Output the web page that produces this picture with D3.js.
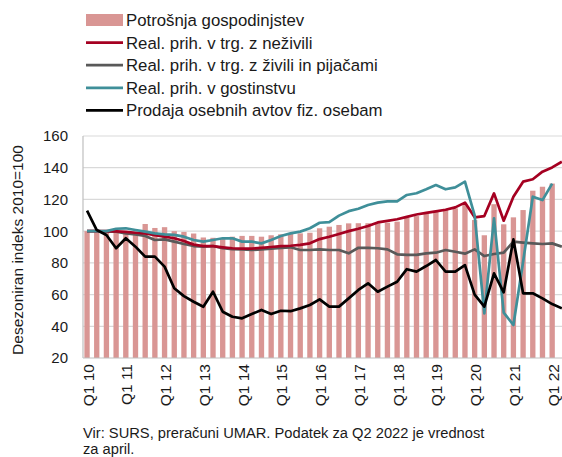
<!DOCTYPE html>
<html>
<head>
<meta charset="utf-8">
<script src="https://cdn.jsdelivr.net/npm/d3@7"></script>
<style>
	body { margin: 0; background: #fff; }
	svg text { font-family: "Liberation Sans", Arial, sans-serif; fill: #1a1a1a; }
</style>
</head>
<body>
<div class="container"></div>
<script>
//quarterly data, Q1 2010 - Q2 2022
const years = ['10','11','12','13','14','15','16','17','18','19','20','21','22'];
const tickLabels = ['Q1 10','Q1 11','Q1 12','Q1 13','Q1 14','Q1 15','Q1 16','Q1 17','Q1 18','Q1 19','Q1 20','Q1 21','Q1 22'];

//bars: household consumption (ends Q1 22)
const potrosnja = [100,100,100,100.5,100,99.5,104.5,102,102.5,100,
	99.5,98.5,96,95.8,95,96.5,97,97,96.5,97.4,
	98,98.6,98.6,99,101.8,102.8,103.9,104.9,105,105,
	105,105.3,106,108.5,109.5,111,112.8,113.3,114.4,116.5,
	107,97.4,117,104.3,108.7,113.3,125.5,128,130];

//lines
const nezivili = [100,100,100,99.8,99.5,99,98.5,97.5,96.5,95.5,
	93.8,91.5,90.5,90.5,89.8,89.2,89,89,89.5,90,
	90.5,90.8,91.3,92.3,95,96.5,98.2,100,101.5,103.2,
	105.5,106.5,107.5,109,110.5,111.5,112.5,113.5,115,118,
	108.7,109.5,123.8,106.6,121.7,131.2,132.7,137.5,140.2,143.8];

const zivili = [100,100,99.7,99.7,98.6,98,97,94.4,94.8,93.4,
	91.9,90.6,90.2,90.6,89.2,88.7,88.5,88.1,88.5,88.9,
	89.5,89.8,88.1,88.1,88.5,88.1,88.1,86,89.5,89.5,
	89.2,88.5,85.4,85,85,86,86.4,88.1,87,85.8,
	88.5,84.3,85.6,86.4,93.4,92.8,92.3,91.9,92.3,90.2];

const gostinstvo = [100,100,100,101.5,101.8,100.7,99.7,98.6,98,97.6,
	96.5,94.4,93.4,94.4,95.5,95.5,93.4,93.4,92.3,94.4,
	96.9,98.6,99.7,101.8,105.3,105.7,109.8,112.6,114.1,116.5,
	118,118.8,118.8,122.8,123.9,126.4,129.1,126.4,127.6,131.2,
	110,48.2,108.1,48.6,40.8,80.7,121.7,119.6,130];

const avti = [112.9,100.7,97.6,89.2,95.5,90.2,83.9,83.9,77.6,64,
	59,55.5,52.3,61.8,49.2,46,45,47.7,50.3,47.7,
	49.8,49.5,51.3,53.4,57,52.4,52.4,57.6,62.9,67.1,
	61.8,65,68.1,76,74.5,78,81.8,74.5,74.5,78.6,
	60,52.4,73.4,61.4,94.8,60.8,60.8,57.6,54,51.3];

const yTicks = [20,40,60,80,100,120,140,160];

//category keys: 'Q1 10' ... 'Q2 22'
const quarters = [];
years.forEach(function(yr){
	[1,2,3,4].forEach(function(q){ quarters.push(`Q${q} ${yr}`); });
});
quarters.splice(50);

const W = 562, H = 457;
const svg = d3.select('.container')
	.append('svg')
	.attr('width', W)
	.attr('height', H);

//scales: the plot runs past the right edge of the picture
const x = d3.scaleBand()
	.domain(quarters)
	.range([82.2, 566.7])
	.paddingInner(0.45)
	.paddingOuter(0.225);
const y = d3.scaleLinear()
	.domain([20, 160])
	.range([358, 136]);
const cx = function(i){ return x(quarters[i]) + x.bandwidth()/2; };

//gridlines
svg.append('g')
	.selectAll('line')
	.data(yTicks.slice(1))
	.enter()
	.append('line')
	.attr('x1', 83)
	.attr('x2', W)
	.attr('y1', function(d){ return y(d); })
	.attr('y2', function(d){ return y(d); })
	.style('stroke', '#d9d9d9')
	.style('stroke-width', 1.2);

//y labels
svg.append('g')
	.selectAll('text')
	.data(yTicks)
	.enter()
	.append('text')
	.attr('x', 68)
	.attr('y', function(d){ return y(d); })
	.attr('dy', '0.36em')
	.attr('text-anchor', 'end')
	.style('font-size', '15px')
	.text(function(d){ return d; });

svg.append('text')
	.attr('transform', 'translate(23, 250) rotate(-90)')
	.attr('text-anchor', 'middle')
	.style('font-size', '15.5px')
	.text('Desezoniran indeks 2010=100');

//bars
svg.append('g')
	.selectAll('rect')
	.data(potrosnja)
	.enter()
	.append('rect')
	.attr('x', function(d, i){ return x(quarters[i]); })
	.attr('width', x.bandwidth())
	.attr('y', function(d){ return y(d); })
	.attr('height', function(d){ return y(20) - y(d); })
	.style('fill', '#d99694');

//axes lines
svg.append('line')
	.attr('x1', 83).attr('x2', 83)
	.attr('y1', y(160)).attr('y2', y(20))
	.style('stroke', '#bfbfbf').style('stroke-width', 1.2);
svg.append('line')
	.attr('x1', 83).attr('x2', W)
	.attr('y1', y(20)).attr('y2', y(20))
	.style('stroke', '#bfbfbf').style('stroke-width', 1.2);

//lines
const series = [
	{name: 'Real. prih. v trg. z živili in pijačami', values: zivili, color: '#595959'},
	{name: 'Real. prih. v trg. z neživili', values: nezivili, color: '#a50021'},
	{name: 'Real. prih. v gostinstvu', values: gostinstvo, color: '#3f8f99'},
	{name: 'Prodaja osebnih avtov fiz. osebam', values: avti, color: '#000000'}
];
const lineGen = d3.line()
	.x(function(d, i){ return cx(i); })
	.y(function(d){ return y(d); });

svg.append('g')
	.selectAll('path')
	.data(series)
	.enter()
	.append('path')
	.attr('d', function(d){ return lineGen(d.values); })
	.style('fill', 'none')
	.style('stroke', function(d){ return d.color; })
	.style('stroke-width', 2.7)
	.style('stroke-linejoin', 'round');

//x labels
svg.append('g')
	.selectAll('text')
	.data(tickLabels)
	.enter()
	.append('text')
	.attr('transform', function(d){
		return `translate(${cx(quarters.indexOf(d)) + 1}, 364) rotate(-90)`;
	})
	.attr('dy', '0.36em')
	.attr('text-anchor', 'end')
	.style('font-size', '15.5px')
	.text(function(d){ return d; });

//legend
const legendItems = [
	{name: 'Potrošnja gospodinjstev', color: '#d99694', bar: true},
	{name: 'Real. prih. v trg. z neživili', color: '#a50021'},
	{name: 'Real. prih. v trg. z živili in pijačami', color: '#595959'},
	{name: 'Real. prih. v gostinstvu', color: '#3f8f99'},
	{name: 'Prodaja osebnih avtov fiz. osebam', color: '#000000'}
];
const legend = svg.append('g')
	.selectAll('g')
	.data(legendItems)
	.enter()
	.append('g')
	.attr('transform', function(d, i){ return `translate(86, ${20 + i*22.6})`; });

legend.filter(function(d){ return d.bar; })
	.append('rect')
	.attr('x', 0).attr('y', -6)
	.attr('width', 37).attr('height', 12)
	.style('fill', function(d){ return d.color; });
legend.filter(function(d){ return !d.bar; })
	.append('line')
	.attr('x1', 0).attr('x2', 37)
	.style('stroke', function(d){ return d.color; })
	.style('stroke-width', 2.7);
legend.append('text')
	.attr('x', 40)
	.attr('dy', '0.36em')
	.style('font-size', '16.8px')
	.text(function(d){ return d.name; });

//source note
svg.append('text')
	.attr('x', 83).attr('y', 438)
	.style('font-size', '14.7px')
	.text('Vir: SURS, preračuni UMAR. Podatek za Q2 2022 je vrednost');
svg.append('text')
	.attr('x', 83).attr('y', 454)
	.style('font-size', '14.7px')
	.text('za april.');
</script>
</body>
</html>
